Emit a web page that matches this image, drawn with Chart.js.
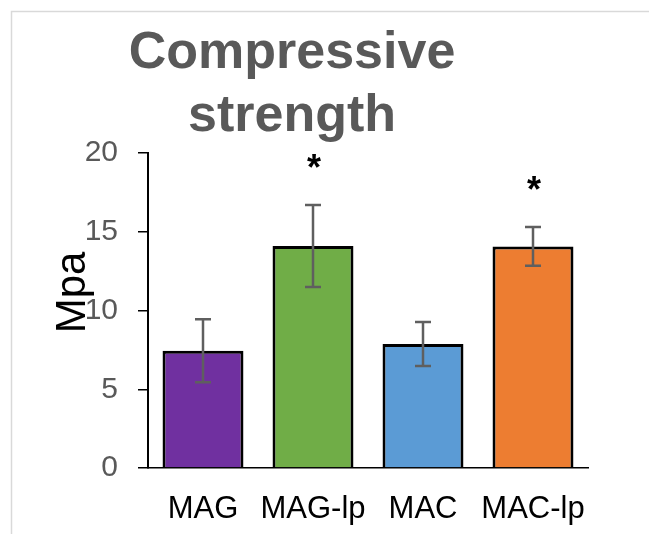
<!DOCTYPE html>
<html>
<head>
<meta charset="utf-8">
<script src="https://cdn.jsdelivr.net/npm/chart.js@4"></script>
<style>
  html, body { margin: 0; padding: 0; background: #fff; }
  #wrap { position: relative; width: 649px; height: 534px; }
</style>
</head>
<body>
<div id="wrap"><canvas id="myChart" width="649" height="534"></canvas></div>
<script>
const categories = ['MAG', 'MAG-lp', 'MAC', 'MAC-lp'];
const strength = [7.45, 14.1, 7.87, 14.07];
const errors = [2.0, 2.6, 1.4, 1.23];
const marks = ['', '*', '', '*'];
const barColors = ['#7030A0', '#70AD47', '#5B9BD5', '#ED7D31'];
const yTicks = [0, 5, 10, 15, 20];
const titleLines = ['Compressive', 'strength'];
const yTitle = 'Mpa';

const FONT = '"Liberation Sans", Arial, sans-serif';

// error bars, asterisks, title, y title and frame
const extras = {
  id: 'extras',
  afterDatasetsDraw(chart) {
    const ctx = chart.ctx;
    const y = chart.scales.y;
    const meta = chart.getDatasetMeta(0);
    ctx.save();
    ctx.strokeStyle = '#5f5f5f';
    ctx.lineWidth = 2.5;
    meta.data.forEach((bar, i) => {
      const top = y.getPixelForValue(strength[i] + errors[i]);
      const bot = y.getPixelForValue(strength[i] - errors[i]);
      ctx.beginPath();
      ctx.moveTo(bar.x, top); ctx.lineTo(bar.x, bot);
      ctx.moveTo(bar.x - 8, top); ctx.lineTo(bar.x + 8, top);
      ctx.moveTo(bar.x - 8, bot); ctx.lineTo(bar.x + 8, bot);
      ctx.stroke();
      if (marks[i]) {
        ctx.fillStyle = '#000';
        ctx.font = 'bold 36px ' + FONT;
        ctx.textAlign = 'center';
        ctx.textBaseline = 'alphabetic';
        ctx.fillText(marks[i], bar.x + 1, top - 25);
      }
    });
    ctx.restore();
  },
  afterDraw(chart) {
    const ctx = chart.ctx;
    ctx.save();
    // light frame of the original figure
    ctx.strokeStyle = '#d9d9d9';
    ctx.lineWidth = 1.5;
    ctx.beginPath();
    ctx.moveTo(11.5, 534); ctx.lineTo(11.5, 11.5); ctx.lineTo(649, 11.5);
    ctx.stroke();
    // title
    ctx.fillStyle = '#595959';
    ctx.font = 'bold 52px ' + FONT;
    ctx.textAlign = 'center';
    ctx.textBaseline = 'alphabetic';
    ctx.fillText(titleLines[0], 292, 68);
    ctx.fillText(titleLines[1], 292, 131);
    // y axis title
    ctx.fillStyle = '#000';
    ctx.font = '42px ' + FONT;
    ctx.translate(85, 292.5);
    ctx.rotate(-Math.PI / 2);
    ctx.fillText(yTitle, 0, 0);
    ctx.restore();
  }
};

new Chart(document.getElementById('myChart').getContext('2d'), {
  type: 'bar',
  data: {
    labels: categories,
    datasets: [{
      data: strength,
      backgroundColor: barColors,
      borderColor: '#000',
      borderWidth: 3,
      barPercentage: 0.736,
      categoryPercentage: 1
    }]
  },
  options: {
    responsive: false,
    animation: false,
    layout: { padding: { top: 153, right: 61, bottom: 0, left: 0 } },
    plugins: {
      legend: { display: false },
      title: { display: false },
      tooltip: { enabled: false }
    },
    scales: {
      x: {
        grid: { display: false },
        border: { display: true, color: '#000', width: 1.5 },
        ticks: {
          color: '#000', font: { family: FONT, size: 31 }, padding: 15,
          autoSkip: false, maxRotation: 0, minRotation: 0
        },
        afterFit(scale) { scale.height = 66; }
      },
      y: {
        min: 0,
        max: 20,
        afterBuildTicks(scale) { scale.ticks = yTicks.map(v => ({ value: v })); },
        grid: { drawOnChartArea: false, drawTicks: true, tickLength: 10, color: '#000', lineWidth: 1.5 },
        border: { display: true, color: '#000', width: 2 },
        ticks: { color: '#595959', font: { family: FONT, size: 30 }, padding: 20 },
        afterFit(scale) { scale.width = 148; }
      }
    }
  },
  plugins: [extras]
});
</script>
</body>
</html>
